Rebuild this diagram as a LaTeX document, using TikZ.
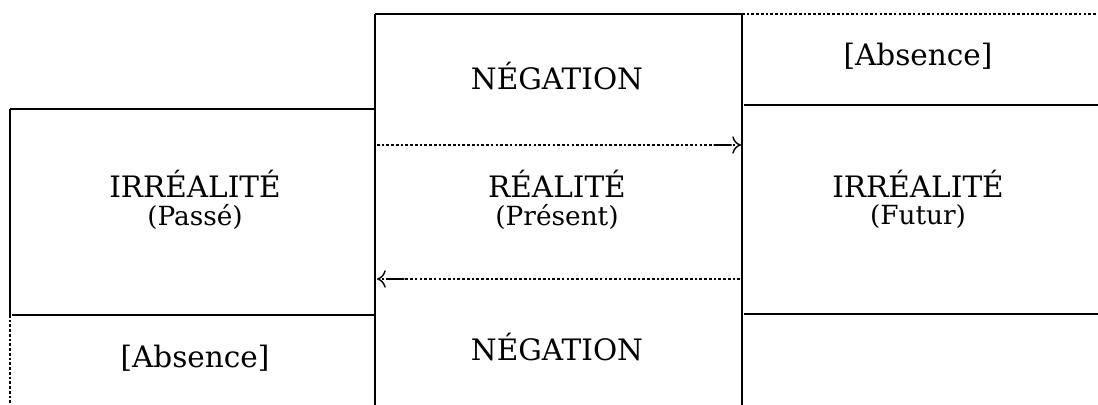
\documentclass[tikz,border=0pt]{standalone}
\usepackage{fontspec}
\setmainfont{DejaVu Serif}
\usetikzlibrary{arrows.meta,positioning}

\begin{document}
\begin{tikzpicture}[x=0.02cm, y=-0.02cm]
    % Define styles
    \tikzstyle{word} = [inner sep=0pt, font=\fontsize{16.8}{20}\selectfont]
    \tikzstyle{tense} = [inner sep=0pt, font=\fontsize{15}{18}\selectfont]
    \tikzstyle{rule} = [line width=0.9pt]
    \tikzstyle{dotrule} = [line width=0.9pt, dash pattern=on 1.5pt off 1.2pt]
    \tikzstyle{arrow} = [line width=0.8pt, dash pattern=on 1.5pt off 1.2pt,
        -{Rectangle[length=11pt,width=0.8pt] To[length=5pt,width=10pt]}]

    \useasboundingbox (0,0) rectangle (1098,405);

    % Columns
    \draw [rule] (10,109) -- (374,109);
    \draw [rule] (10,109) -- (10,315);
    \draw [dotrule] (10,315) -- (10,405);
    \draw [rule] (12,315) -- (374,315);
    \draw [rule] (375,14) -- (742,14);
    \draw [dotrule] (742,14) -- (1098,14);
    \draw [rule] (375,14) -- (375,405);
    \draw [rule] (742,14) -- (742,405);
    \draw [rule] (744,105) -- (1098,105);
    \draw [rule] (744,314) -- (1098,314);

    % Labels
    \node [word] (negtop) at (557,76) {NÉGATION};
    \node [word] (absright) at (918,56) {[Absence]};
    \node [word] (irrpast) at (195,184) {IRRÉALITÉ};
    \node [tense, below=3.5pt of irrpast] (past) {(Passé)};
    \node [word] (real) at (557,184) {RÉALITÉ};
    \node [tense, below=3.5pt of real] (present) {(Présent)};
    \node [word] (irrfut) at (918,184) {IRRÉALITÉ};
    \node [tense, below=3.5pt of irrfut] (future) {(Futur)};
    \node [word] (absleft) at (195,358) {[Absence]};
    \node [word] (negbot) at (557,347) {NÉGATION};

    % Arrows
    \coordinate (topstart) at (377,145);
    \coordinate (topend) at (741,145);
    \coordinate (botstart) at (740,279);
    \coordinate (botend) at (377,279);
    \draw [arrow] (topstart) -- (topend);
    \draw [arrow] (botstart) -- (botend);
\end{tikzpicture}
\end{document}
